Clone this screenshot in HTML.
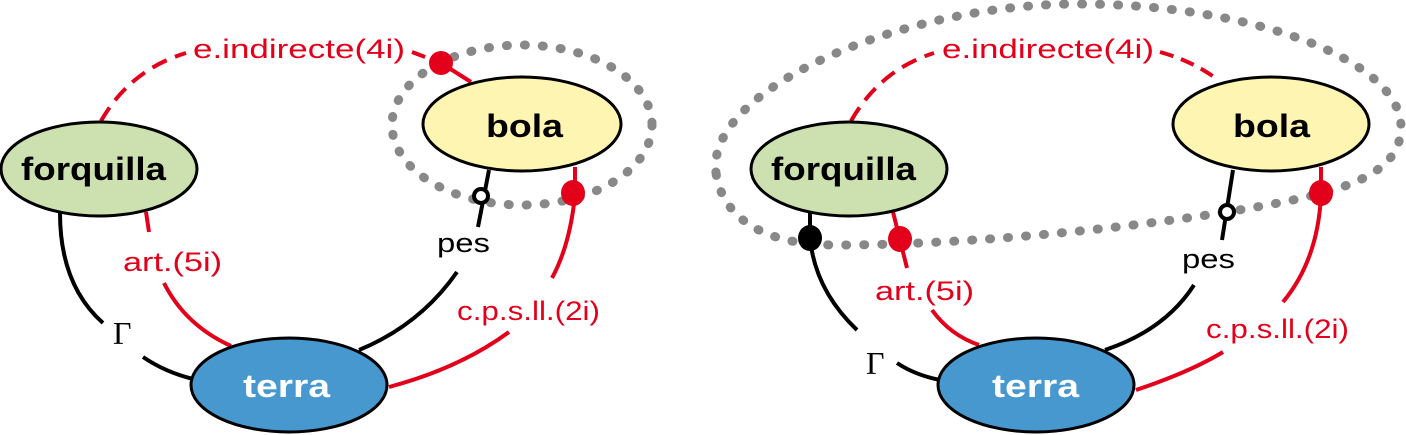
<!DOCTYPE html>
<html><head><meta charset="utf-8"><style>
html,body{margin:0;padding:0;background:#fff;}
svg{display:block;}
.red{fill:#e2001a;font-family:"Liberation Sans",sans-serif;font-size:27px;}
.blk{fill:#000;font-family:"Liberation Sans",sans-serif;font-size:27px;}
.node{font-family:"Liberation Sans",sans-serif;font-weight:bold;font-size:32px;}
</style></head><body>
<svg width="1406" height="435" viewBox="0 0 1406 435" xmlns="http://www.w3.org/2000/svg">
<!-- LEFT PANEL -->
<g fill="none" stroke-width="4">
  <path d="M101 121 Q130 70 186 53" stroke="#e2001a" stroke-dasharray="16 9"/>
  <path d="M412 52 L441 63" stroke="#e2001a" stroke-dasharray="14 8"/>
  <path d="M441 63 L471 82" stroke="#e2001a"/>
  <path d="M146 212 L149 232" stroke="#e2001a"/>
  <path d="M164 283 Q185 325 231 346" stroke="#e2001a"/>
  <path d="M60 213 Q60 285 103 323" stroke="#000"/>
  <path d="M143 357 Q165 372 193 379" stroke="#000"/>
  <path d="M489 170 L478 227" stroke="#000"/>
  <path d="M457 272 Q420 325 359 350" stroke="#000"/>
  <path d="M575 167 L575 195 Q570 245 552 278" stroke="#e2001a"/>
  <path d="M509 332 Q460 368 389 387" stroke="#e2001a"/>
</g>
<ellipse cx="99" cy="169" rx="98" ry="47" fill="#cce0b0" stroke="#000" stroke-width="3"/>
<ellipse cx="522" cy="124" rx="99" ry="47" fill="#fff5b3" stroke="#000" stroke-width="3"/>
<ellipse cx="289" cy="385" rx="98" ry="47" fill="#4698cf" stroke="#000" stroke-width="3"/>
<ellipse cx="522" cy="125" rx="130" ry="80" fill="none" stroke="#888" stroke-width="9" stroke-linecap="round" stroke-dasharray="1 17"/>
<ellipse cx="441" cy="63" rx="12" ry="12" fill="#e2001a"/>
<ellipse cx="573" cy="193" rx="12" ry="13" fill="#e2001a"/>
<circle cx="481" cy="196" r="7" fill="#fff" stroke="#000" stroke-width="4"/>
<text x="21" y="180" class="node" textLength="145" lengthAdjust="spacingAndGlyphs">forquilla</text>
<text x="486" y="137" class="node" textLength="77" lengthAdjust="spacingAndGlyphs">bola</text>
<text x="243" y="397" class="node" fill="#fff" textLength="87" lengthAdjust="spacingAndGlyphs">terra</text>
<text x="193" y="58" class="red" textLength="212" lengthAdjust="spacingAndGlyphs">e.indirecte(4i)</text>
<text x="123" y="271" class="red" textLength="99" lengthAdjust="spacingAndGlyphs">art.(5i)</text>
<text x="457" y="320" class="red" textLength="143" lengthAdjust="spacingAndGlyphs">c.p.s.ll.(2i)</text>
<text x="437" y="252" class="blk" textLength="53" lengthAdjust="spacingAndGlyphs">pes</text>
<text x="113" y="344" font-family="Liberation Serif,serif" font-size="32" fill="#000">Γ</text>

<!-- RIGHT PANEL -->
<g fill="none" stroke-width="4">
  <path d="M851 121 Q880 70 934 53" stroke="#e2001a" stroke-dasharray="16 9"/>
  <path d="M1160 52 Q1195 62 1218 80" stroke="#e2001a" stroke-dasharray="14 8"/>
  <path d="M893 212 L907 268" stroke="#e2001a"/>
  <path d="M932 310 Q950 335 979 345" stroke="#e2001a"/>
  <path d="M810 213 L810 238 Q815 290 857 330" stroke="#000"/>
  <path d="M897 363 Q915 375 940 380" stroke="#000"/>
  <path d="M1233 170 L1222 240" stroke="#000"/>
  <path d="M1194 285 Q1165 330 1105 350" stroke="#000"/>
  <path d="M1321 167 L1321 195 Q1318 260 1283 302" stroke="#e2001a"/>
  <path d="M1223 352 Q1190 372 1136 390" stroke="#e2001a"/>
</g>
<ellipse cx="849" cy="169" rx="98" ry="47" fill="#cce0b0" stroke="#000" stroke-width="3"/>
<ellipse cx="1271" cy="124" rx="98" ry="47" fill="#fff5b3" stroke="#000" stroke-width="3"/>
<ellipse cx="1036" cy="385" rx="98" ry="47" fill="#4698cf" stroke="#000" stroke-width="3"/>
<path d="M716 173 C705 90 900 5 1074 4 C1250 3 1401 60 1401 127 C1401 180 1330 195 1227 212 C1100 232 950 245 835 245 C760 245 722 215 716 173 Z" fill="none" stroke="#888" stroke-width="9" stroke-linecap="round" stroke-dasharray="1 17"/>
<ellipse cx="810" cy="238" rx="12" ry="13" fill="#000"/>
<ellipse cx="900" cy="239" rx="12" ry="13" fill="#e2001a"/>
<ellipse cx="1321" cy="193" rx="12" ry="13" fill="#e2001a"/>
<circle cx="1227" cy="212" r="7" fill="#fff" stroke="#000" stroke-width="4"/>
<text x="771" y="180" class="node" textLength="145" lengthAdjust="spacingAndGlyphs">forquilla</text>
<text x="1233" y="137" class="node" textLength="77" lengthAdjust="spacingAndGlyphs">bola</text>
<text x="992" y="397" class="node" fill="#fff" textLength="87" lengthAdjust="spacingAndGlyphs">terra</text>
<text x="942" y="58" class="red" textLength="212" lengthAdjust="spacingAndGlyphs">e.indirecte(4i)</text>
<text x="875" y="300" class="red" textLength="99" lengthAdjust="spacingAndGlyphs">art.(5i)</text>
<text x="1206" y="338" class="red" textLength="143" lengthAdjust="spacingAndGlyphs">c.p.s.ll.(2i)</text>
<text x="1182" y="268" class="blk" textLength="53" lengthAdjust="spacingAndGlyphs">pes</text>
<text x="866" y="374" font-family="Liberation Serif,serif" font-size="32" fill="#000">Γ</text>
</svg>
</body></html>
